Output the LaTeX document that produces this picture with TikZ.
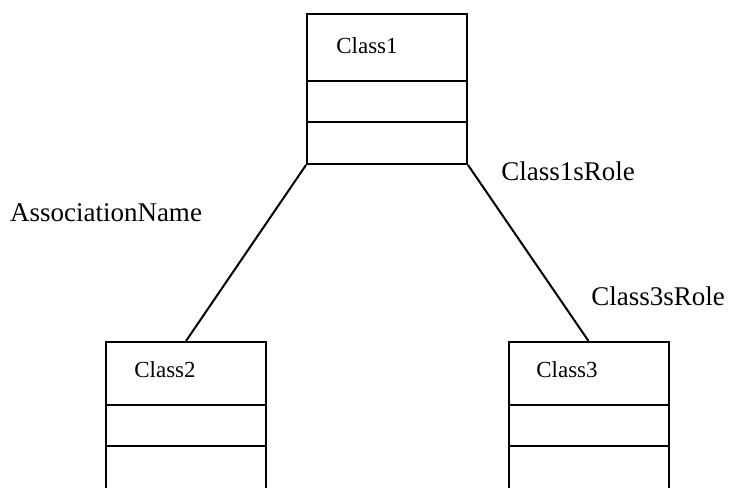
\documentclass[tikz,border=0pt]{standalone}
\usepackage{fontspec}
\setmainfont{Liberation Serif}
\begin{document}
\begin{tikzpicture}[x=1pt,y=-1pt,
  classbox/.style={draw, line width=2pt, minimum width=160pt, minimum height=150pt, anchor=north, inner sep=0pt},
  divider/.style={line width=2.6pt},
  classname/.style={font=\fontsize{23}{26}\selectfont, inner sep=0pt},
  rolelabel/.style={font=\fontsize{27}{30}\selectfont, inner sep=0pt},
  assoc/.style={line width=2pt}]
\useasboundingbox (0,0) rectangle (730,487);
\clip (0,0) rectangle (730,487);
\fill[white] (0,0) rectangle (730,487);
% boxes
\node[classbox] (c1) at (387,13) {};
\node[classbox] (c2) at (186,341) {};
\node[classbox] (c3) at (588.5,341) {};
% dividers
\draw[divider] ([yshift=-68pt]c1.north west) -- ([yshift=-68pt]c1.north east);
\draw[divider] ([yshift=-109pt]c1.north west) -- ([yshift=-109pt]c1.north east);
\draw[divider] ([yshift=-64pt]c2.north west) -- ([yshift=-64pt]c2.north east);
\draw[divider] ([yshift=-105pt]c2.north west) -- ([yshift=-105pt]c2.north east);
\draw[divider] ([yshift=-64pt]c3.north west) -- ([yshift=-64pt]c3.north east);
\draw[divider] ([yshift=-105pt]c3.north west) -- ([yshift=-105pt]c3.north east);
% class names
\node[classname] (n1) at (367,46) {Class1};
\node[classname] (n2) at (165,370) {Class2};
\node[classname] (n3) at (567,370) {Class3};
% associations
\draw[assoc] (c1.south west) -- (c2.north);
\draw[assoc] (c1.south east) -- (c3.north);
% labels
\node[rolelabel] (an) at (106,213) {AssociationName};
\node[rolelabel] (r1) at (568,171) {Class1sRole};
\node[rolelabel] (r3) at (658,296) {Class3sRole};
\end{tikzpicture}
\end{document}
